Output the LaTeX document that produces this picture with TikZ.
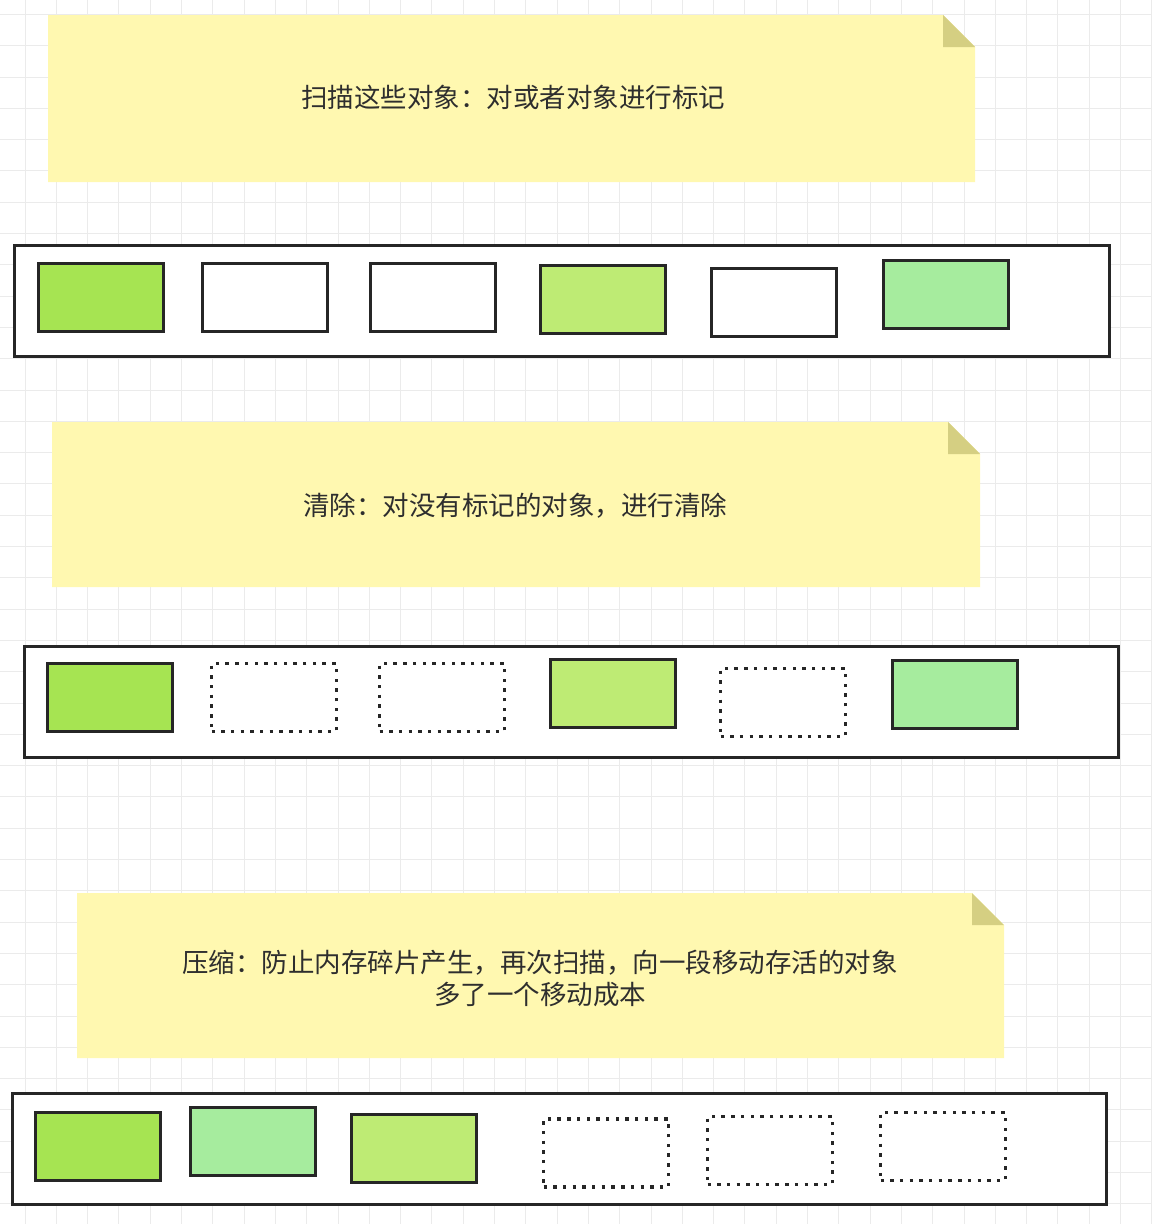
\documentclass[tikz,border=0pt]{standalone}
\usepackage{fontspec}
\newfontfamily\cjk{Noto Sans CJK SC}
\definecolor{gridc}{HTML}{EBEBEB}
\definecolor{notefill}{HTML}{FFF8B0}
\definecolor{foldfill}{HTML}{D5CF82}
\definecolor{gA}{HTML}{A6E452}
\definecolor{gB}{HTML}{BEEB74}
\definecolor{gC}{HTML}{A6EC9E}
\definecolor{txt}{HTML}{2E2E2E}
\definecolor{edge}{HTML}{262626}
\tikzset{
  gridline/.style={draw=gridc, line width=1pt},
  memory/.style={draw=edge, line width=3pt, fill=white, inner sep=0pt, minimum width=#1, minimum height=111pt},
  obj/.style={draw=edge, line width=3pt, inner sep=0pt, minimum width=125pt, minimum height=68pt},
  freed/.style={obj, line width=3.4pt, dash pattern=on 3.4pt off 6.3pt, fill=none},
  notetext/.style={text=txt, font=\cjk\fontsize{26.5}{32}\selectfont, align=center, inner sep=0pt},
}
\newcommand\stickynote[4]{%
  \fill[notefill] (#1,#2) -- ({#3-32},#2) -- (#3,{#2+32}) -- (#3,#4) -- (#1,#4) -- cycle;
  \fill[foldfill] ({#3-32},#2) -- ({#3-32},{#2+32}) -- (#3,{#2+32}) -- cycle;
}
\begin{document}
\begin{tikzpicture}[x=1pt,y=-1pt]
\useasboundingbox (0,0) rectangle (1152,1224);
\fill[white] (0,0) rectangle (1152,1224);
\foreach \i in {0,...,36} { \draw[gridline] ({25+31.3*\i},0) -- ({25+31.3*\i},1224); }
\foreach \j in {0,...,38} { \draw[gridline] (0,{14.4+31.3*\j}) -- (1152,{14.4+31.3*\j}); }

% note 1
\stickynote{48}{15}{975}{182}
\node[notetext] (t1) at (513,97) {扫描这些对象：对或者对象进行标记};
% memory 1
\node[memory=1095pt] (m1) at (561.5,300.5) {};
\node[obj, fill=gA] (a1) at (100.5,297) {};
\node[obj, fill=white] (a2) at (264.5,297) {};
\node[obj, fill=white] (a3) at (432.5,297) {};
\node[obj, fill=gB] (a4) at (602.5,299) {};
\node[obj, fill=white] (a5) at (773.5,302) {};
\node[obj, fill=gC] (a6) at (945.5,294) {};

% note 2
\stickynote{52}{422}{980}{587}
\node[notetext] (t2) at (515,506) {清除：对没有标记的对象，进行清除};
% memory 2
\node[memory=1094pt] (m2) at (571,701.5) {};
\node[obj, fill=gA] (b1) at (109.5,697.5) {};
\node[freed] (b2) at (274,697.5) {};
\node[freed] (b3) at (442,697.5) {};
\node[obj, fill=gB] (b4) at (612.5,693) {};
\node[freed] (b5) at (783,702.5) {};
\node[obj, fill=gC] (b6) at (955,694.5) {};

% note 3
\stickynote{77}{893}{1004}{1058}
\node[notetext] (t3) at (540,978) {压缩：防止内存碎片产生，再次扫描，向一段移动存活的对象\\多了一个移动成本};
% memory 3
\node[memory=1094pt] (m3) at (559,1149) {};
\node[obj, fill=gA] (c1) at (97.5,1146) {};
\node[obj, fill=gC] (c2) at (252.5,1141) {};
\node[obj, fill=gB] (c3) at (413.5,1148.5) {};
\node[freed] (c4) at (606,1153) {};
\node[freed] (c5) at (770,1150.5) {};
\node[freed] (c6) at (943,1146.5) {};
\end{tikzpicture}
\end{document}
